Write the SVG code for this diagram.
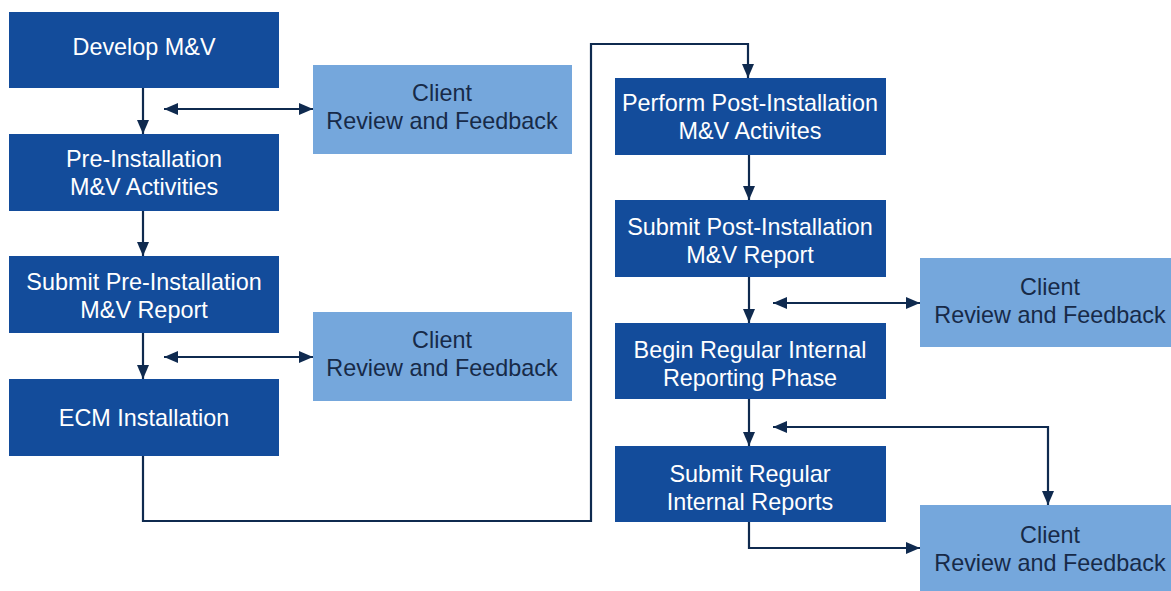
<svg xmlns="http://www.w3.org/2000/svg" width="1171" height="591" viewBox="0 0 1171 591">
<defs>
<marker id="ah" markerUnits="userSpaceOnUse" markerWidth="14" markerHeight="13" refX="14" refY="6.5" orient="auto-start-reverse" viewBox="0 0 14 13">
<path d="M0,0.5 L14,6.5 L0,12.5 z" fill="#0f2a4f"/>
</marker>
</defs>
<style>
.dk{fill:#134c9b}
.lt{fill:#75a7dc}
.tw{font-family:"Liberation Sans",Arial,sans-serif;font-size:23.4px;fill:#ffffff;text-anchor:middle}
.tb{font-family:"Liberation Sans",Arial,sans-serif;font-size:23.4px;fill:#172a48;text-anchor:middle}
.c{fill:none;stroke:#0f2a4f;stroke-width:2.2}
.a{marker-end:url(#ah)}
.d{marker-start:url(#ah);marker-end:url(#ah)}
</style>
<rect width="1171" height="591" fill="#ffffff"/>
<g id="connectors">
<path class="c a" d="M143,88 V134"/>
<path class="c a" d="M143,211 V256"/>
<path class="c a" d="M143,333 V379"/>
<path class="c d" d="M164,109 H313"/>
<path class="c d" d="M164,357 H313"/>
<path class="c a" d="M143,456 V521 H591 V44 H748 V78"/>
<path class="c a" d="M749,155 V200"/>
<path class="c a" d="M749,277 V323"/>
<path class="c a" d="M749,399 V446"/>
<path class="c d" d="M773,303 H920"/>
<path class="c d" d="M773,427 H1048 V505"/>
<path class="c a" d="M749,522 V548 H920"/>
</g>
<g id="develop-mv"><rect class="dk" x="9" y="12" width="270" height="76"/><text class="tw" x="144" y="55">Develop M&amp;V</text></g>
<g id="pre-installation"><rect class="dk" x="9" y="134" width="270" height="77"/><text class="tw" x="144" y="167">Pre-Installation</text><text class="tw" x="144" y="195">M&amp;V Activities</text></g>
<g id="submit-pre"><rect class="dk" x="9" y="256" width="270" height="77"/><text class="tw" x="144" y="290">Submit Pre-Installation</text><text class="tw" x="144" y="318">M&amp;V Report</text></g>
<g id="ecm-installation"><rect class="dk" x="9" y="379" width="270" height="77"/><text class="tw" x="144" y="426">ECM Installation</text></g>
<g id="client-1"><rect class="lt" x="313" y="65" width="259" height="89"/><text class="tb" x="442" y="101">Client</text><text class="tb" x="442" y="129">Review and Feedback</text></g>
<g id="client-2"><rect class="lt" x="313" y="312" width="259" height="89"/><text class="tb" x="442" y="348">Client</text><text class="tb" x="442" y="376">Review and Feedback</text></g>
<g id="perform-post"><rect class="dk" x="615" y="78" width="271" height="77"/><text class="tw" x="750" y="111">Perform Post-Installation</text><text class="tw" x="750" y="139">M&amp;V Activites</text></g>
<g id="submit-post"><rect class="dk" x="615" y="200" width="271" height="77"/><text class="tw" x="750" y="235">Submit Post-Installation</text><text class="tw" x="750" y="263">M&amp;V Report</text></g>
<g id="begin-regular"><rect class="dk" x="615" y="323" width="271" height="76"/><text class="tw" x="750" y="358">Begin Regular Internal</text><text class="tw" x="750" y="386">Reporting Phase</text></g>
<g id="submit-regular"><rect class="dk" x="615" y="446" width="271" height="76"/><text class="tw" x="750" y="482">Submit Regular</text><text class="tw" x="750" y="510">Internal Reports</text></g>
<g id="client-3"><rect class="lt" x="920" y="258" width="251" height="89"/><text class="tb" x="1050" y="295">Client</text><text class="tb" x="1050" y="323">Review and Feedback</text></g>
<g id="client-4"><rect class="lt" x="920" y="505" width="251" height="86"/><text class="tb" x="1050" y="543">Client</text><text class="tb" x="1050" y="571">Review and Feedback</text></g>
</svg>
